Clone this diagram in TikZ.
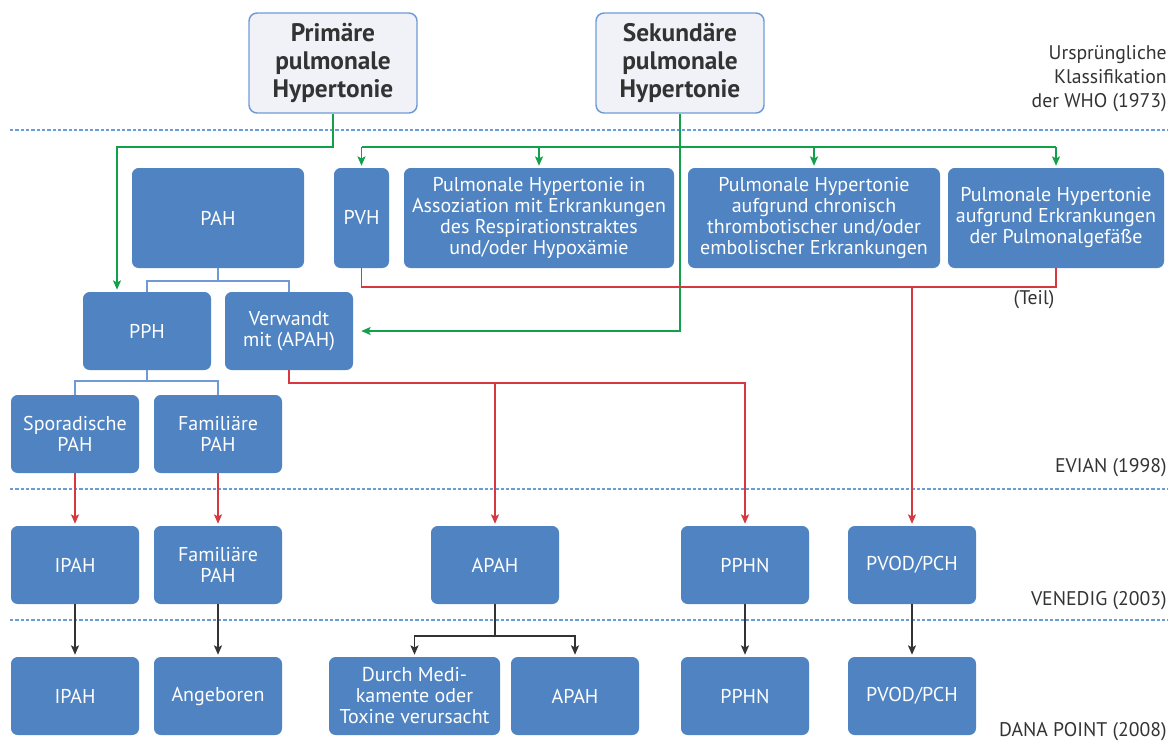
\documentclass[tikz,border=0pt]{standalone}
\usepackage{fontspec}
\setmainfont{PT Sans}
\usetikzlibrary{arrows.meta}

\definecolor{boxblue}{HTML}{4F83C1}
\definecolor{titlefill}{HTML}{F0F2F8}
\definecolor{titleline}{HTML}{6E9BD6}
\definecolor{treeblue}{HTML}{6E9BD6}
\definecolor{dashblue}{HTML}{6A9BDB}
\definecolor{arrowgreen}{HTML}{13A04B}
\definecolor{arrowred}{HTML}{D7373F}
\definecolor{arrowblack}{HTML}{333333}
\definecolor{labelgray}{HTML}{333333}

\tikzset{
  boxsize/.style 2 args={minimum width=#1*0.75pt, minimum height=#2*0.75pt},
  class box/.style={rectangle, rounded corners=5pt, fill=boxblue, text=white,
    align=center, inner sep=0pt, font=\fontsize{15}{15.75}\selectfont},
  title box/.style={rectangle, rounded corners=6pt, draw=titleline, line width=1.1pt,
    fill=titlefill, text=labelgray, align=center, inner sep=0pt,
    font=\fontsize{19}{21}\selectfont\bfseries},
  era label/.style={align=right, text=labelgray, inner sep=0pt,
    font=\fontsize{14.8}{18}\selectfont},
  era line/.style={dashblue, line width=1.1pt, dash pattern=on 2.5pt off 1.5pt},
  tip/.style={-{Stealth[length=7pt, width=6pt, inset=1.5pt]}, shorten >=1.5pt},
  green line/.style={arrowgreen, line width=1.1pt},
  green link/.style={green line, tip},
  red line/.style={arrowred, line width=1.1pt},
  red link/.style={red line, tip},
  black link/.style={arrowblack, line width=1.1pt, tip},
  tree line/.style={treeblue, line width=1.1pt},
}

\begin{document}
\begin{tikzpicture}[x=0.75pt, y=-0.75pt]
  \useasboundingbox (0,0) rectangle (1171,744);

  % era boundaries
  \foreach \y in {130,489,620}
    \draw[era line] (10,\y) -- (1168,\y);

  \node[era label, anchor=east] (WHO label) at (1167,79)
    {Ursprüngliche\\Klassifikation\\der WHO (1973)};
  \node[era label, anchor=base east] (Evian label)  at (1167,472) {EVIAN (1998)};
  \node[era label, anchor=base east] (Venice label) at (1167,605) {VENEDIG (2003)};
  \node[era label, anchor=base east] (Dana label)   at (1167,736) {DANA POINT (2008)};

  % WHO 1973
  \node[title box, boxsize={168}{100}] (prim) at (333,63) {Primäre\\pulmonale\\Hypertonie};
  \node[title box, boxsize={168}{100}] (sek)  at (680,63) {Sekundäre\\pulmonale\\Hypertonie};

  % Evian 1998
  \node[class box, boxsize={172}{100}] (pah)   at (218,218)   {PAH};
  \node[class box, boxsize={55}{100}]  (pvh)   at (361.5,218) {PVH};
  \node[class box, boxsize={270}{100}] (resp)  at (539,218)
    {Pulmonale Hypertonie in\\Assoziation mit Erkrankungen\\des Respirationstraktes\\und/oder Hypoxämie};
  \node[class box, boxsize={252}{100}] (cteph) at (814,218)
    {Pulmonale Hypertonie\\aufgrund chronisch\\thrombotischer und/oder\\embolischer Erkrankungen};
  \node[class box, boxsize={216}{100}] (vasc)  at (1056,218)
    {Pulmonale Hypertonie\\aufgrund Erkrankungen\\der Pulmonalgefäße};
  \node[class box, boxsize={128}{78}] (pph)   at (147,331) {PPH};
  \node[class box, boxsize={128}{78}] (apahE) at (289,331) {Verwandt\\mit (APAH)};
  \node[class box, boxsize={128}{78}] (spor)  at (75,434)  {Sporadische\\PAH};
  \node[class box, boxsize={128}{78}] (famE)  at (218,434) {Familiäre\\PAH};

  % Venedig 2003
  \node[class box, boxsize={128}{78}] (ipahV) at (75,565)  {IPAH};
  \node[class box, boxsize={128}{78}] (famV)  at (218,565) {Familiäre\\PAH};
  \node[class box, boxsize={128}{78}] (apahV) at (495,565) {APAH};
  \node[class box, boxsize={128}{78}] (pphnV) at (745,565) {PPHN};
  \node[class box, boxsize={128}{78}] (pvodV) at (912,565) {PVOD/PCH};

  % Dana Point 2008
  \node[class box, boxsize={128}{78}] (ipahD) at (75,696)    {IPAH};
  \node[class box, boxsize={128}{78}] (angeb) at (218,696)   {Angeboren};
  \node[class box, boxsize={171}{78}] (drug)  at (414.5,696) {Durch Medi-\\kamente oder\\Toxine verursacht};
  \node[class box, boxsize={128}{78}] (apahD) at (575,696)   {APAH};
  \node[class box, boxsize={128}{78}] (pphnD) at (745,696)   {PPHN};
  \node[class box, boxsize={128}{78}] (pvodD) at (912,696)   {PVOD/PCH};

  \coordinate (green bus)  at (0,147);
  \coordinate (PPH entry)  at (117,0);
  \coordinate (PAH split)  at (0,281);
  \coordinate (red bus)    at (0,287);
  \coordinate (PPH split)  at (0,381);
  \coordinate (APAH bus)   at (0,383);
  \coordinate (APAH split) at (0,636);

  % green: from 1973
  \draw[green link] (prim.south) -- (prim.south |- green bus)
    -| (PPH entry |- pph.north);
  \draw[green link, shorten >=6pt] (sek.south) |- (apahE.east);
  \draw[green line] (pvh.north |- green bus) -- (vasc.north |- green bus);
  \foreach \n in {pvh,resp,cteph,vasc}
    \draw[green link] (\n.north |- green bus) -- (\n.north);

  % blue: Evian tree
  \draw[tree line] (pah.south) -- (pah.south |- PAH split) -| (pph.north);
  \draw[tree line] (pah.south |- PAH split) -| (apahE.north);
  \draw[tree line] (pph.south) -- (pph.south |- PPH split) -| (spor.north);
  \draw[tree line] (pph.south |- PPH split) -| (famE.north);

  % red: to 2003
  \draw[red line] (pvh.south) -- (pvh.south |- red bus) -| (vasc.south);
  \draw[red link] (pvodV.north |- red bus) -- (pvodV.north);
  \draw[red link] (apahE.south) -- (apahE.south |- APAH bus) -| (pphnV.north);
  \draw[red link] (apahV.north |- APAH bus) -- (apahV.north);
  \draw[red link] (spor.south) -- (ipahV.north);
  \draw[red link] (famE.south) -- (famV.north);
  \node[era label, anchor=north] (part) at (1034,290) {(Teil)};

  % black: to 2008
  \foreach \a/\b in {ipahV/ipahD, famV/angeb, pphnV/pphnD, pvodV/pvodD}
    \draw[black link] (\a.south) -- (\b.north);
  \draw[black link] (apahV.south) -- (apahV.south |- APAH split) -| (drug.north);
  \draw[black link] (apahV.south |- APAH split) -| (apahD.north);
\end{tikzpicture}
\end{document}
